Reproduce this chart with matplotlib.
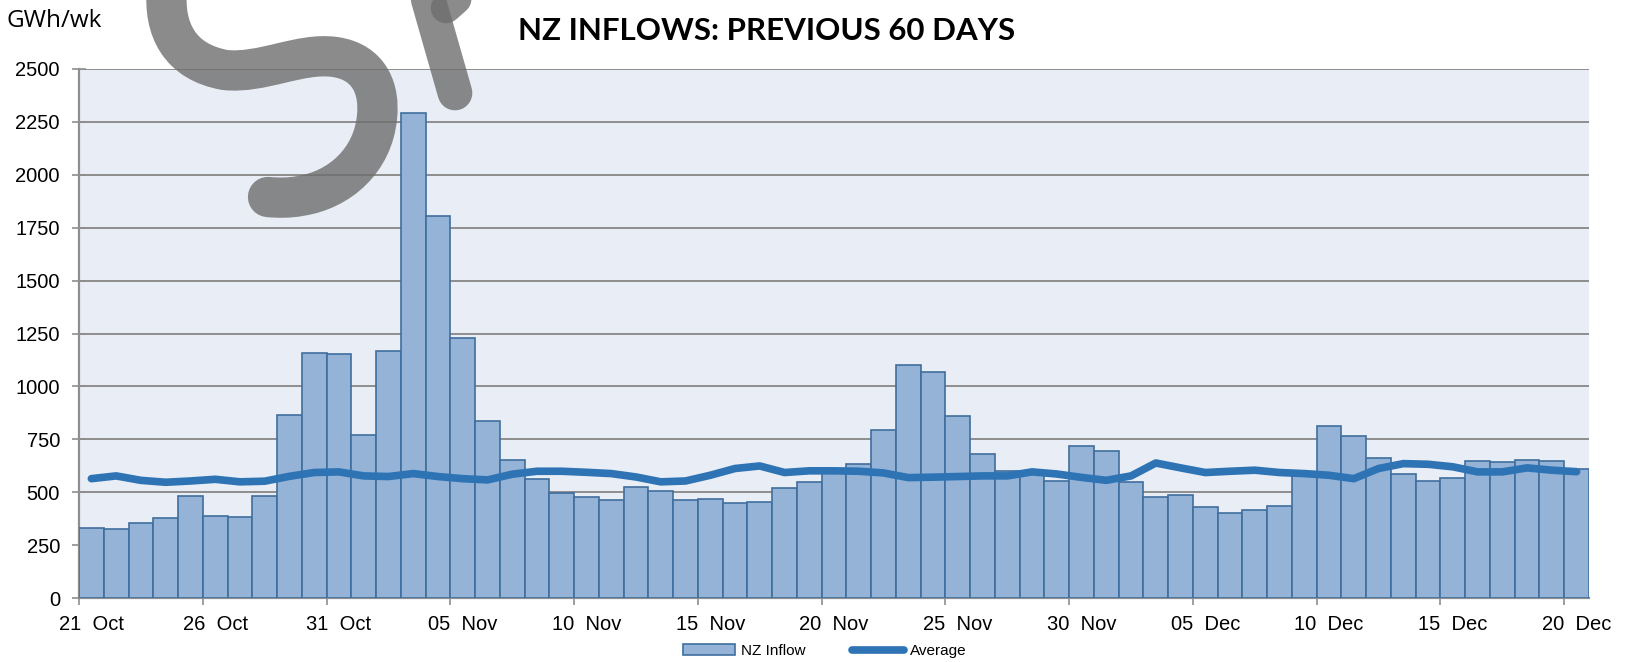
import numpy as np
import matplotlib
matplotlib.use("Agg")
import matplotlib.pyplot as plt
from matplotlib.ticker import FixedLocator, NullFormatter
from matplotlib.path import Path
from matplotlib.patches import PathPatch

# daily NZ inflow (GWh/wk), 21 Oct .. 20 Dec
inflow_oct = [333, 326, 356, 380, 484, 389, 383, 481, 865, 1159, 1151]
inflow_nov = [768, 1168, 2293, 1807, 1231, 837, 651, 563, 497, 478,
              465, 525, 504, 463, 467, 451, 452, 520, 549, 600,
              632, 796, 1099, 1066, 862, 681, 598, 598, 552, 720]
inflow_dec = [695, 549, 478, 489, 432, 404, 415, 435, 578, 815,
              766, 662, 588, 553, 567, 646, 643, 653, 648, 610]

# average inflow for the same days
avg_oct = [564, 577, 556, 547, 553, 561, 549, 552, 575, 593, 596]
avg_nov = [577, 574, 588, 574, 564, 558, 585, 599, 599, 594,
           588, 572, 549, 553, 580, 612, 624, 593, 601, 601,
           599, 591, 569, 571, 574, 577, 577, 596, 586, 570]
avg_dec = [556, 577, 638, 615, 593, 599, 604, 593, 588, 580,
           564, 612, 635, 632, 620, 596, 596, 615, 604, 597]

tick_labels = ["21  Oct", "26  Oct", "31  Oct", "05  Nov", "10  Nov", "15  Nov",
               "20  Nov", "25  Nov", "30  Nov", "05  Dec", "10  Dec", "15  Dec",
               "20  Dec"]

inflow = inflow_oct + inflow_nov + inflow_dec
average = avg_oct + avg_nov + avg_dec
days = np.arange(len(inflow))

W, H = 1634, 662
fig = plt.figure(figsize=(W / 100, H / 100), dpi=100)
ax = fig.add_axes([79 / W, 1 - 598 / H, (1589 - 79) / W, (598 - 69) / H])
ax.set_facecolor("#E9EDF6")

bars = ax.bar(days + 0.5, inflow, width=1.0, color="#95B3D7", edgecolor="#3F6E9E",
              linewidth=1.2, label="NZ Inflow", zorder=3)
line, = ax.plot(days + 0.5, average, color="#2E74B5", linewidth=5.5,
                solid_capstyle="round", solid_joinstyle="round", label="Average",
                zorder=4)

ax.set_xlim(0, len(inflow))
ax.set_ylim(0, 2500)
ax.set_yticks(np.arange(0, 2501, 250))
ax.yaxis.grid(True, color="#8E8E8E", linewidth=1.4, zorder=1)
ax.set_axisbelow(True)

# ticks at the day boundaries, labels centred on the bars
major = np.arange(0, len(inflow), 5)
ax.xaxis.set_major_locator(FixedLocator(major))
ax.xaxis.set_major_formatter(NullFormatter())
ax.xaxis.set_minor_locator(FixedLocator(major + 0.5))
ax.set_xticklabels(tick_labels, minor=True)
ax.tick_params(axis="x", which="major", direction="inout", length=9.5,
               width=1.2, color="#8E8E8E")
ax.tick_params(axis="x", which="minor", length=0, pad=12, labelsize=14.5)
ax.tick_params(axis="y", direction="inout", length=9.5, width=1.2,
               color="#8E8E8E", pad=9, labelsize=14.5)
for lab in ax.get_xticklabels(minor=True) + ax.get_yticklabels():
    lab.set_fontfamily("Liberation Sans")

for s in ["top", "right"]:
    ax.spines[s].set_visible(False)
for s in ["left", "bottom"]:
    ax.spines[s].set_color("#8E8E8E")
    ax.spines[s].set_linewidth(1.6)

fig.text(767 / W, 1 - 31 / H, "NZ INFLOWS: PREVIOUS 60 DAYS", ha="center",
         va="center", fontsize=22.5, fontweight="bold", fontfamily="Lato")
fig.text(7 / W, 1 - 21 / H, "GWh/wk", ha="left", va="center", fontsize=17.5,
         fontfamily="Open Sans")

ax.legend([bars, line], ["NZ Inflow", "Average"], loc="center",
          bbox_to_anchor=(0.494, -0.1005), ncol=2, frameon=False,
          handlelength=3.4, handletextpad=0.4, columnspacing=3.0,
          prop={"family": "Liberation Sans", "size": 11})


# watermark strokes, given in figure pixels from the top-left corner
def px(pts):
    return [(x / W, 1 - y / H) for x, y in pts]


s_pts = [(167, -12), (163, 30), (180, 62), (225, 70),
         (262, 74), (300, 52), (335, 57),
         (370, 62), (380, 90), (377, 117),
         (373, 160), (340, 190), (300, 196),
         (290, 198), (278, 198), (268, 197)]
s_codes = [Path.MOVETO] + [Path.CURVE4] * 15
p_pts = [(425, -12), (455, 93)]
p2_pts = [(446, 8), (472, -15)]
for pts, codes, lw in [(s_pts, s_codes, 29), (p_pts, None, 25), (p2_pts, None, 22)]:
    patch = PathPatch(Path(px(pts), codes), facecolor="none", edgecolor="#6E6E6E",
                      alpha=0.8, lw=lw, capstyle="round", joinstyle="round",
                      transform=fig.transFigure, zorder=2)
    patch.set_clip_on(False)
    fig.add_artist(patch)

fig.savefig("out.png", dpi=100)
